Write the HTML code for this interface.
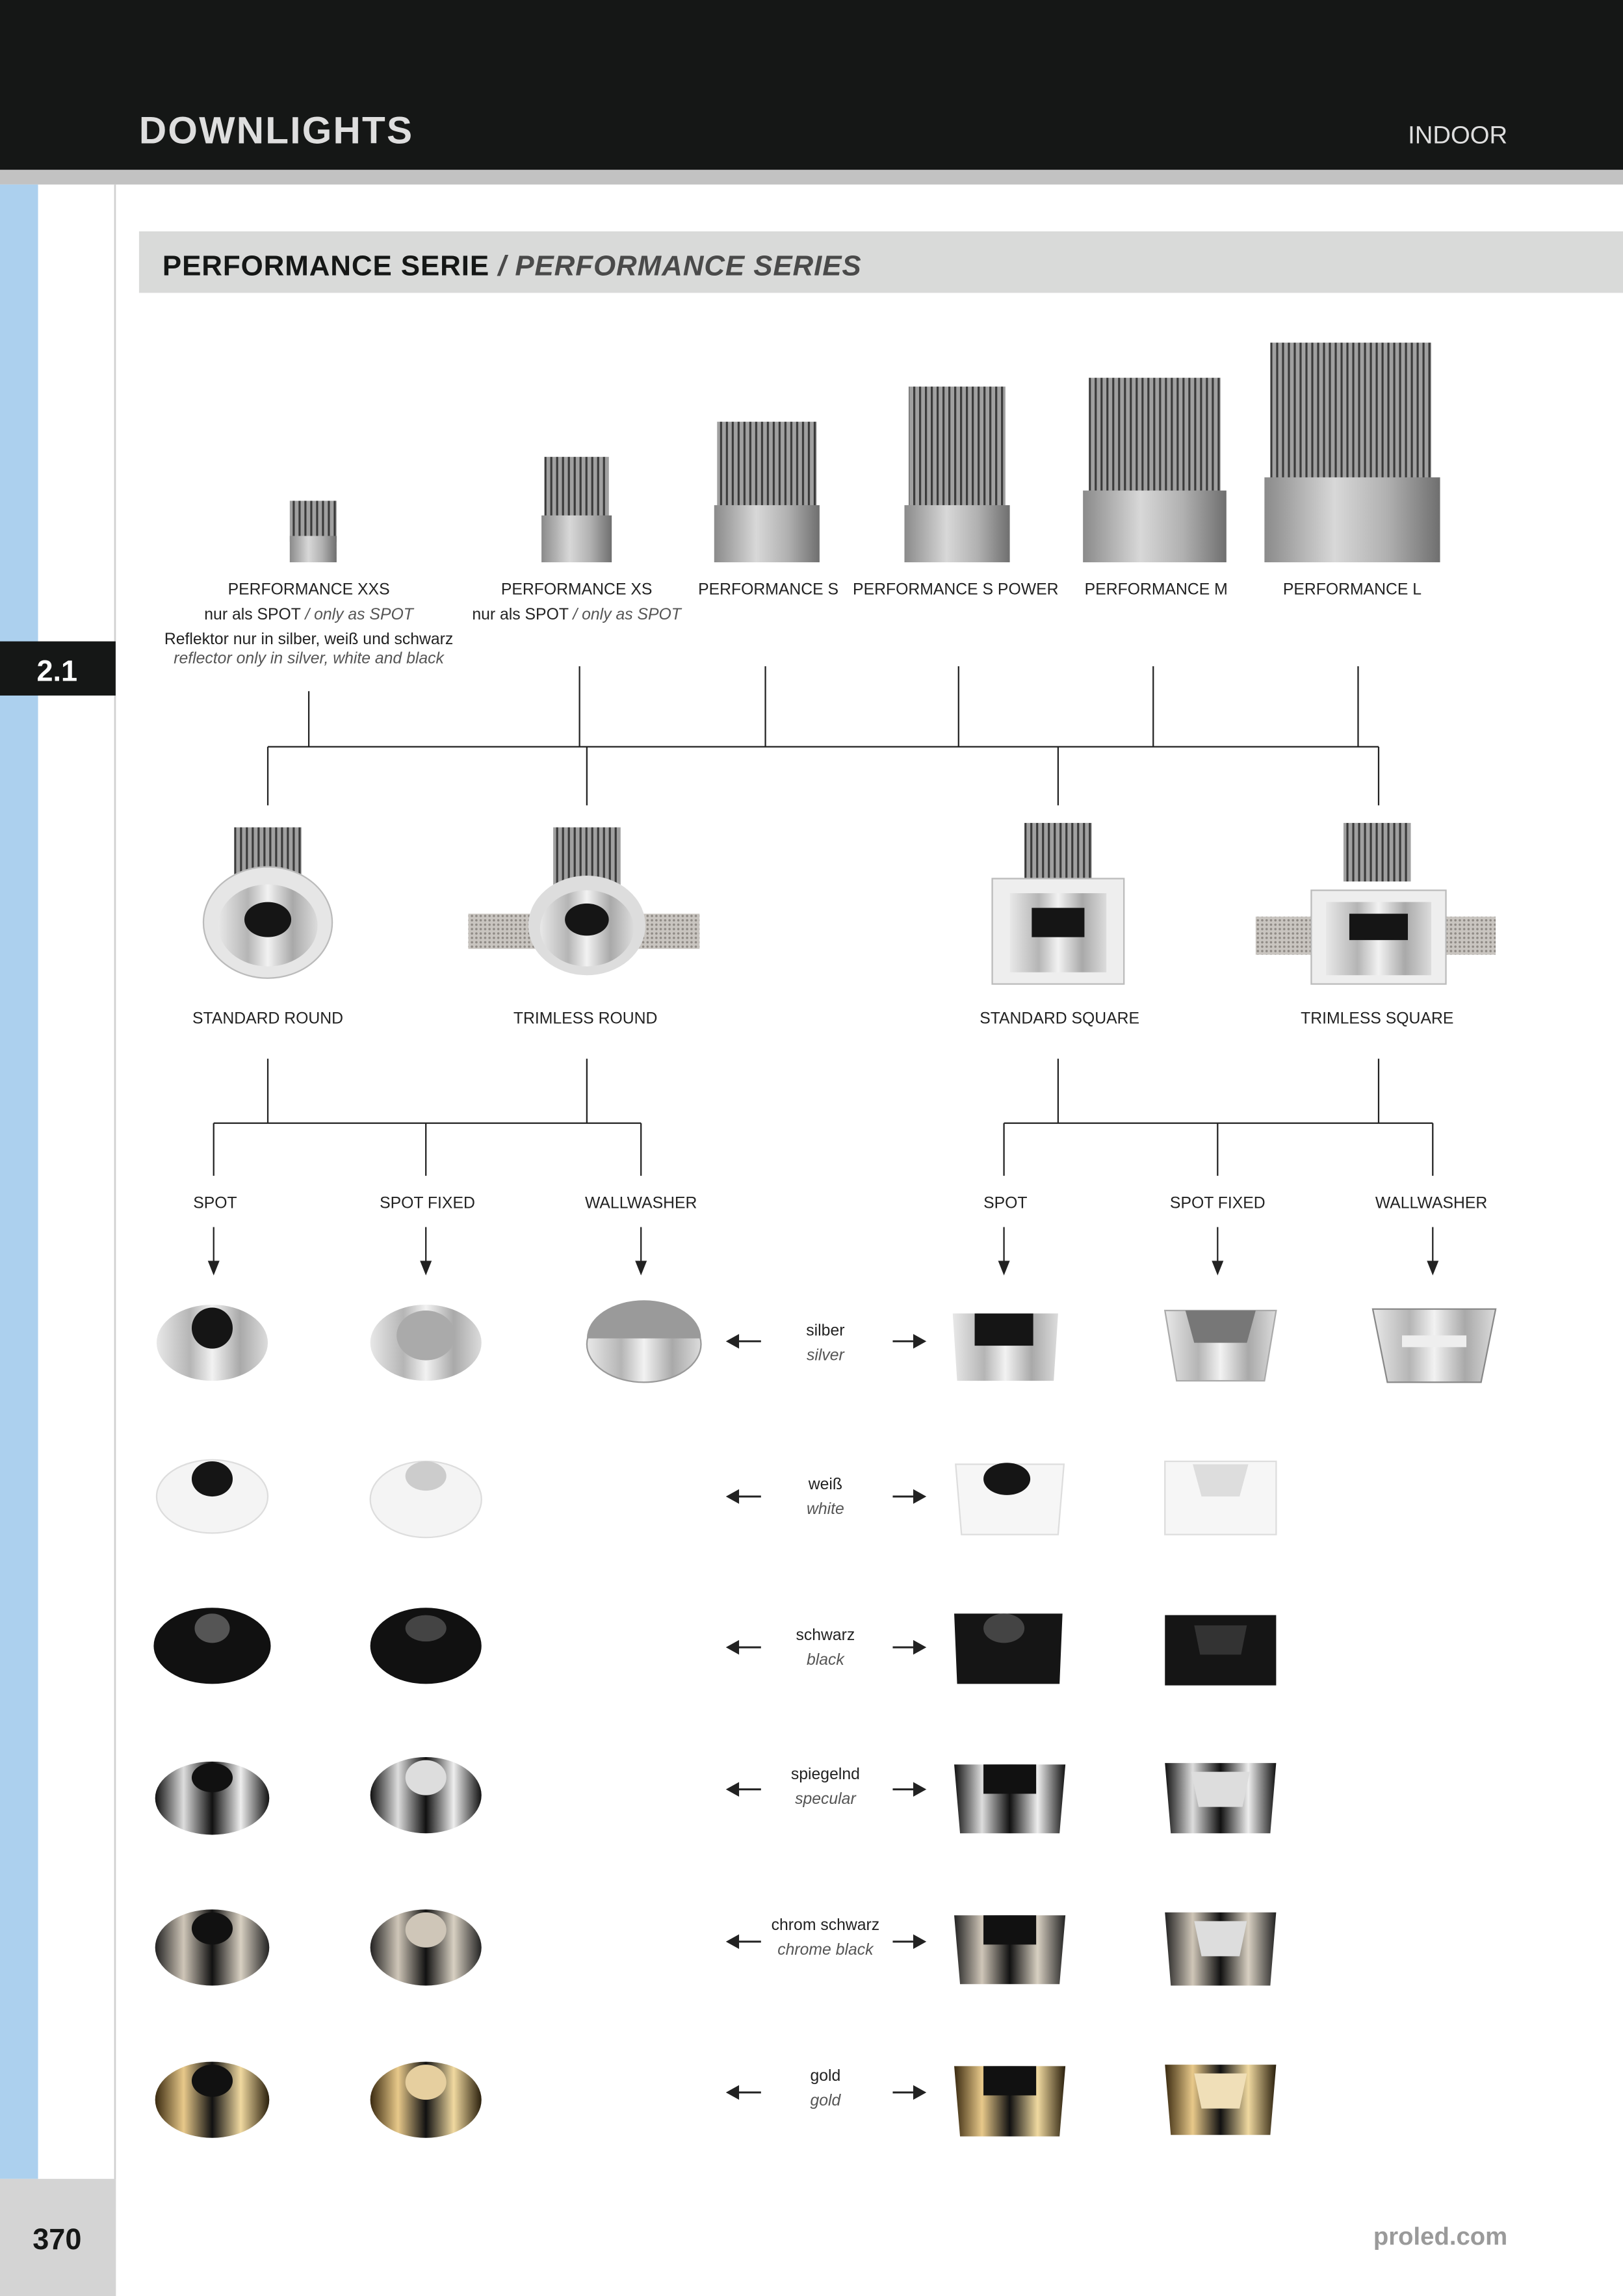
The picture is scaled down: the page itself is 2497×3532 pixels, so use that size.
<!DOCTYPE html>
<html><head><meta charset="utf-8"><style>
html,body{margin:0;padding:0;background:#fff}
svg{display:block}
text{font-family:"Liberation Sans",sans-serif}
</style></head><body>
<svg width="2497" height="3532" viewBox="0 0 1109 1568" preserveAspectRatio="none" xmlns="http://www.w3.org/2000/svg">
<defs>
<linearGradient id="sil" x1="0" x2="1"><stop offset="0" stop-color="#e8e8e8"/><stop offset=".3" stop-color="#b5b5b5"/><stop offset=".5" stop-color="#f2f2f2"/><stop offset=".75" stop-color="#a9a9a9"/><stop offset="1" stop-color="#dcdcdc"/></linearGradient>
<linearGradient id="body" x1="0" x2="1"><stop offset="0" stop-color="#8a8a8a"/><stop offset=".4" stop-color="#d8d8d8"/><stop offset=".7" stop-color="#b0b0b0"/><stop offset="1" stop-color="#6f6f6f"/></linearGradient>
<linearGradient id="gold" x1="0" x2="1"><stop offset="0" stop-color="#3a2a10"/><stop offset=".25" stop-color="#e8c98a"/><stop offset=".5" stop-color="#111"/><stop offset=".75" stop-color="#f0d9a0"/><stop offset="1" stop-color="#2a1f0c"/></linearGradient>
<linearGradient id="chr" x1="0" x2="1"><stop offset="0" stop-color="#111"/><stop offset=".25" stop-color="#ddd"/><stop offset=".5" stop-color="#111"/><stop offset=".75" stop-color="#eee"/><stop offset="1" stop-color="#111"/></linearGradient>
<linearGradient id="cb" x1="0" x2="1"><stop offset="0" stop-color="#222"/><stop offset=".25" stop-color="#cfc6b8"/><stop offset=".5" stop-color="#111"/><stop offset=".75" stop-color="#d8d0c2"/><stop offset="1" stop-color="#222"/></linearGradient>
<pattern id="fins" width="4" height="10" patternUnits="userSpaceOnUse"><rect width="4" height="10" fill="#a0a0a0"/><rect width="1.4" height="10" fill="#3a3a3a"/></pattern>
<pattern id="mesh" width="3" height="3" patternUnits="userSpaceOnUse"><rect width="3" height="3" fill="#c9c5c0"/><circle cx="1.5" cy="1.5" r=".8" fill="#8f8a85"/></pattern>
</defs>

<rect x="0" y="0" width="1109" height="116" fill="#151716"/>
<rect x="0" y="116" width="1109" height="10" fill="#c2c2c2"/>
<text x="95" y="98" font-size="26" font-weight="bold" fill="#dedede" letter-spacing="1">DOWNLIGHTS</text>
<text x="1030" y="98" font-size="17" fill="#dedede" text-anchor="end">INDOOR</text>

<rect x="0" y="126" width="26" height="1362" fill="#acd0ee"/>
<rect x="78" y="126" width="1.2" height="1442" fill="#d0d0d0"/>
<rect x="0" y="438" width="79" height="37" fill="#151716"/>
<text x="39" y="465" font-size="20" font-weight="bold" fill="#fff" text-anchor="middle">2.1</text>
<rect x="0" y="1488" width="79" height="80" fill="#d4d4d4"/>
<text x="39" y="1536" font-size="20" font-weight="bold" fill="#151716" text-anchor="middle">370</text>
<text x="1030" y="1533" font-size="17" font-weight="bold" fill="#9a9a9a" text-anchor="end">proled.com</text>

<rect x="95" y="158" width="1014" height="42" fill="#d9dad9"/>
<text x="111" y="188" font-size="19.5" font-weight="bold" fill="#151716" letter-spacing="0.4">PERFORMANCE SERIE <tspan fill="#4a4a4a" font-style="italic">/ PERFORMANCE SERIES</tspan></text>

<g>
<rect x="198" y="342" width="32" height="28" fill="url(#fins)"/><rect x="198" y="366" width="32" height="18" fill="url(#body)"/>
<rect x="372" y="312" width="44" height="44" fill="url(#fins)"/><rect x="370" y="352" width="48" height="32" fill="url(#body)"/>
<rect x="490" y="288" width="68" height="62" fill="url(#fins)"/><rect x="488" y="345" width="72" height="39" fill="url(#body)"/>
<rect x="621" y="264" width="66" height="86" fill="url(#fins)"/><rect x="618" y="345" width="72" height="39" fill="url(#body)"/>
<rect x="744" y="258" width="90" height="82" fill="url(#fins)"/><rect x="740" y="335" width="98" height="49" fill="url(#body)"/>
<rect x="868" y="234" width="110" height="98" fill="url(#fins)"/><rect x="864" y="326" width="120" height="58" fill="url(#body)"/>
</g>
<g font-size="11" fill="#222" text-anchor="middle">
<text x="211" y="406">PERFORMANCE XXS</text>
<text x="211" y="423">nur als SPOT <tspan font-style="italic" fill="#555">/ only as SPOT</tspan></text>
<text x="211" y="440">Reflektor nur in silber, weiß und schwarz</text>
<text x="211" y="453" font-style="italic" fill="#555">reflector only in silver, white and black</text>
<text x="394" y="406">PERFORMANCE XS</text>
<text x="394" y="423">nur als SPOT <tspan font-style="italic" fill="#555">/ only as SPOT</tspan></text>
<text x="525" y="406">PERFORMANCE S</text>
<text x="653" y="406">PERFORMANCE S POWER</text>
<text x="790" y="406">PERFORMANCE M</text>
<text x="924" y="406">PERFORMANCE L</text>
</g>

<g stroke="#222" stroke-width="1" fill="none">
<path d="M211 472V510M396 455V510M523 455V510M655 455V510M788 455V510M928 455V510M183 510H942M183 510V550M401 510V550M723 510V550M942 510V550"/>
<path d="M183 723V767M401 723V767M723 723V767M942 723V767M146 767H438M686 767H979M146 767V803M291 767V803M438 767V803M686 767V803M832 767V803M979 767V803"/>
<path d="M146 838V862M291 838V862M438 838V862M686 838V862M832 838V862M979 838V862"/>
</g>
<g fill="#222">
<path d="M142 861h8l-4 10z"/><path d="M287 861h8l-4 10z"/><path d="M434 861h8l-4 10z"/>
<path d="M682 861h8l-4 10z"/><path d="M828 861h8l-4 10z"/><path d="M975 861h8l-4 10z"/>
</g>

<g>
<rect x="160" y="565" width="46" height="40" fill="url(#fins)"/>
<ellipse cx="183" cy="630" rx="44" ry="38" fill="#e6e6e6" stroke="#bbb"/><ellipse cx="183" cy="632" rx="34" ry="28" fill="url(#sil)"/><ellipse cx="183" cy="628" rx="16" ry="12" fill="#151515"/>
<rect x="320" y="624" width="158" height="24" fill="url(#mesh)"/>
<rect x="378" y="565" width="46" height="40" fill="url(#fins)"/>
<ellipse cx="401" cy="632" rx="40" ry="34" fill="#ddd"/><ellipse cx="401" cy="634" rx="32" ry="26" fill="url(#sil)"/><ellipse cx="401" cy="628" rx="15" ry="11" fill="#151515"/>
<rect x="700" y="562" width="46" height="40" fill="url(#fins)"/>
<rect x="678" y="600" width="90" height="72" fill="#eee" stroke="#bbb"/><rect x="690" y="610" width="66" height="54" fill="url(#sil)"/><rect x="705" y="620" width="36" height="20" fill="#151515"/>
<rect x="858" y="626" width="164" height="26" fill="url(#mesh)"/>
<rect x="918" y="562" width="46" height="40" fill="url(#fins)"/>
<rect x="896" y="608" width="92" height="64" fill="#eee" stroke="#bbb"/><rect x="906" y="616" width="72" height="50" fill="url(#sil)"/><rect x="922" y="624" width="40" height="18" fill="#151515"/>
</g>
<g font-size="11" fill="#222" text-anchor="middle">
<text x="183" y="699">STANDARD ROUND</text><text x="400" y="699">TRIMLESS ROUND</text>
<text x="724" y="699">STANDARD SQUARE</text><text x="941" y="699">TRIMLESS SQUARE</text>
<text x="147" y="825">SPOT</text><text x="292" y="825">SPOT FIXED</text><text x="438" y="825">WALLWASHER</text>
<text x="687" y="825">SPOT</text><text x="832" y="825">SPOT FIXED</text><text x="978" y="825">WALLWASHER</text>
</g>

<g>
<ellipse cx="145" cy="917" rx="38" ry="26" fill="url(#sil)"/><ellipse cx="145" cy="907" rx="14" ry="14" fill="#151515"/>
<ellipse cx="291" cy="917" rx="38" ry="26" fill="url(#sil)"/><ellipse cx="291" cy="912" rx="20" ry="17" fill="#aaa"/>
<ellipse cx="440" cy="918" rx="39" ry="26" fill="url(#sil)" stroke="#999"/><path d="M401 914a39 26 0 0 1 78 0z" fill="#9a9a9a"/>
<path d="M651 897h72l-3 46h-66z" fill="url(#sil)"/><rect x="666" y="897" width="40" height="22" fill="#151515"/>
<path d="M796 895h76l-8 48h-60z" fill="url(#sil)" stroke="#aaa"/><path d="M810 895h48l-6 22h-36z" fill="#777"/>
<path d="M938 894h84l-10 50h-64z" fill="url(#sil)" stroke="#888"/><rect x="958" y="912" width="44" height="8" fill="#eee"/>
<ellipse cx="145" cy="1022" rx="38" ry="25" fill="#f4f4f4" stroke="#ddd"/><ellipse cx="145" cy="1010" rx="14" ry="12" fill="#151515"/>
<ellipse cx="291" cy="1024" rx="38" ry="26" fill="#f4f4f4" stroke="#ddd"/><ellipse cx="291" cy="1008" rx="14" ry="10" fill="#ccc"/>
<path d="M653 1000h74l-4 48h-66z" fill="#f6f6f6" stroke="#ddd"/><ellipse cx="688" cy="1010" rx="16" ry="11" fill="#151515"/>
<path d="M796 998h76v50h-76z" fill="#f6f6f6" stroke="#ddd"/><path d="M815 1000h38l-6 22h-26z" fill="#ddd"/>
<ellipse cx="145" cy="1124" rx="40" ry="26" fill="#111"/><ellipse cx="145" cy="1112" rx="12" ry="10" fill="#555"/>
<ellipse cx="291" cy="1124" rx="38" ry="26" fill="#111"/><ellipse cx="291" cy="1112" rx="14" ry="9" fill="#444"/>
<path d="M652 1102h74l-2 48h-70z" fill="#151515"/><ellipse cx="686" cy="1112" rx="14" ry="10" fill="#444"/>
<rect x="796" y="1103" width="76" height="48" fill="#151515"/><path d="M816 1110h36l-4 20h-28z" fill="#333"/>
<ellipse cx="145" cy="1228" rx="39" ry="25" fill="url(#chr)"/><ellipse cx="145" cy="1214" rx="14" ry="10" fill="#111"/>
<ellipse cx="291" cy="1226" rx="38" ry="26" fill="url(#chr)"/><ellipse cx="291" cy="1214" rx="14" ry="12" fill="#ddd"/>
<path d="M652 1205h76l-4 47h-68z" fill="url(#chr)"/><rect x="672" y="1205" width="36" height="20" fill="#111"/>
<path d="M796 1204h76l-4 48h-68z" fill="url(#chr)"/><path d="M814 1210h40l-5 24h-30z" fill="#ddd"/>
<ellipse cx="145" cy="1330" rx="39" ry="26" fill="url(#cb)"/><ellipse cx="145" cy="1317" rx="14" ry="11" fill="#111"/>
<ellipse cx="291" cy="1330" rx="38" ry="26" fill="url(#cb)"/><ellipse cx="291" cy="1318" rx="14" ry="12" fill="#cfc6b8"/>
<path d="M652 1308h76l-4 47h-68z" fill="url(#cb)"/><rect x="672" y="1308" width="36" height="20" fill="#111"/>
<path d="M796 1306h76l-4 50h-68z" fill="url(#cb)"/><path d="M816 1312h36l-5 24h-26z" fill="#ddd"/>
<ellipse cx="145" cy="1434" rx="39" ry="26" fill="url(#gold)"/><ellipse cx="145" cy="1421" rx="14" ry="11" fill="#111"/>
<ellipse cx="291" cy="1434" rx="38" ry="26" fill="url(#gold)"/><ellipse cx="291" cy="1422" rx="14" ry="12" fill="#e6cf9f"/>
<path d="M652 1411h76l-4 48h-68z" fill="url(#gold)"/><rect x="672" y="1411" width="36" height="20" fill="#111"/>
<path d="M796 1410h76l-4 48h-68z" fill="url(#gold)"/><path d="M816 1416h36l-5 24h-26z" fill="#f0dfb8"/>
</g>

<g font-size="11" fill="#222" text-anchor="middle">
<text x="564" y="912">silber</text><text x="564" y="929" font-style="italic" fill="#555">silver</text>
<text x="564" y="1017">weiß</text><text x="564" y="1034" font-style="italic" fill="#555">white</text>
<text x="564" y="1120">schwarz</text><text x="564" y="1137" font-style="italic" fill="#555">black</text>
<text x="564" y="1215">spiegelnd</text><text x="564" y="1232" font-style="italic" fill="#555">specular</text>
<text x="564" y="1318">chrom schwarz</text><text x="564" y="1335" font-style="italic" fill="#555">chrome black</text>
<text x="564" y="1421">gold</text><text x="564" y="1438" font-style="italic" fill="#555">gold</text>
</g>
<g stroke="#222" stroke-width="1.3">
<path d="M504 916H520M610 916H624M504 1022H520M610 1022H624M504 1125H520M610 1125H624M504 1222H520M610 1222H624M504 1326H520M610 1326H624M504 1429H520M610 1429H624"/>
</g>
<g fill="#222">
<path d="M496 916l9-5v10z"/><path d="M633 916l-9-5v10z"/>
<path d="M496 1022l9-5v10z"/><path d="M633 1022l-9-5v10z"/>
<path d="M496 1125l9-5v10z"/><path d="M633 1125l-9-5v10z"/>
<path d="M496 1222l9-5v10z"/><path d="M633 1222l-9-5v10z"/>
<path d="M496 1326l9-5v10z"/><path d="M633 1326l-9-5v10z"/>
<path d="M496 1429l9-5v10z"/><path d="M633 1429l-9-5v10z"/>
</g>
</svg>
</body></html>
